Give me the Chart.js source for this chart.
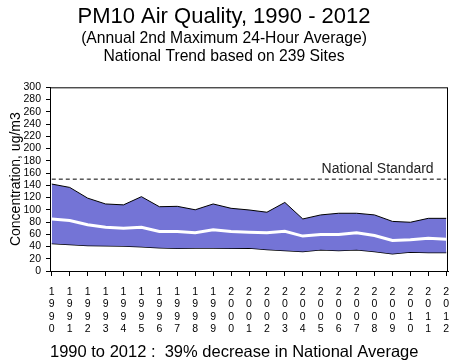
<!DOCTYPE html>
<html>
<head>
<meta charset="utf-8">
<script src="https://cdn.jsdelivr.net/npm/chart.js@4/dist/chart.umd.min.js"></script>
<style>
  body { margin: 0; background: #fff; }
  #wrap { width: 464px; height: 364px; }
</style>
</head>
<body>
<div id="wrap"><canvas id="pmChart" width="464" height="364"></canvas></div>
<script>
// PM10 national trend, 1990 - 2012
const YEARS = [1990, 1991, 1992, 1993, 1994, 1995, 1996, 1997, 1998, 1999, 2000, 2001,
  2002, 2003, 2004, 2005, 2006, 2007, 2008, 2009, 2010, 2011, 2012];
const HIGH_90 = [142, 136.5, 119, 109.5, 108, 121.4, 105, 105.6, 100, 109.5, 102.4, 99.7,
  96, 112, 85, 91.6, 94.3, 94.3, 91.6, 81, 79.6, 86, 86];
const NATIONAL_AVG = [85, 82.4, 75.4, 71.5, 70, 71.5, 64.5, 64.5, 62.4, 67.2, 64.5, 63.4,
  62.4, 65, 57, 59.6, 59.6, 62.4, 58, 50, 51, 53.6, 52];
const LOW_10 = [45, 43.4, 41.8, 41.4, 41, 39.6, 38, 37, 37.4, 37.4, 37, 37.4,
  35.3, 33.6, 32, 34.8, 33.6, 34.8, 32, 28.2, 31, 30.4, 30.4];
const STANDARD = 150;
const Y_TICKS = [0, 20, 40, 60, 80, 100, 120, 140, 160, 180, 200, 220, 240, 260, 280, 300];

const FONT = "'Liberation Sans', Arial, sans-serif";

// box round the plot area + the standard label
const framePlugin = {
  id: "frame",
  afterDraw(chart) {
    const { ctx, chartArea, scales } = chart;
    ctx.save();
    ctx.strokeStyle = "#000";
    ctx.lineWidth = 1;
    ctx.strokeRect(chartArea.left + 0.5, chartArea.top + 0.5,
      chartArea.right - chartArea.left - 1, chartArea.bottom - chartArea.top);
    ctx.fillStyle = "#222";
    ctx.font = "14px " + FONT;
    ctx.textAlign = "right";
    ctx.textBaseline = "bottom";
    ctx.fillText("National Standard", scales.x.getPixelForValue(2011.3), scales.y.getPixelForValue(STANDARD) - 3);
    ctx.restore();
  },
};

new Chart(document.getElementById("pmChart"), {
  type: "line",
  data: {
    labels: YEARS,
    datasets: [
      {
        label: "Average",
        data: NATIONAL_AVG,
        borderColor: "#fff",
        borderWidth: 3,
        pointRadius: 0,
        fill: false,
      },
      {
        label: "National Standard",
        data: YEARS.map(() => STANDARD),
        borderColor: "#000",
        borderWidth: 1,
        borderDash: [4, 3],
        pointRadius: 0,
        fill: false,
      },
      {
        label: "90%",
        data: HIGH_90,
        borderColor: "#000",
        borderWidth: 1,
        backgroundColor: "rgb(116,116,214)",
        pointRadius: 0,
        fill: "+1",
      },
      {
        label: "10%",
        data: LOW_10,
        borderColor: "#000",
        borderWidth: 1.5,
        pointRadius: 0,
        fill: false,
      },
    ],
  },
  options: {
    responsive: false,
    animation: false,
    layout: { padding: { right: 16, left: 0, top: 0, bottom: 0 } },
    plugins: {
      legend: { display: false },
      tooltip: { enabled: false },
      title: {
        display: true,
        text: "PM10 Air Quality, 1990 - 2012",
        color: "#000",
        font: { family: FONT, size: 22, weight: "normal", lineHeight: 1.1 },
        padding: { top: 5, bottom: 0 },
      },
      subtitle: {
        display: true,
        text: ["(Annual 2nd Maximum 24-Hour Average)", "National Trend based on 239 Sites"],
        color: "#000",
        font: { family: FONT, size: 15.7, lineHeight: 1.15 },
        padding: { top: 0, bottom: 22 },
      },
    },
    scales: {
      x: {
        type: "linear",
        min: 1989.9,
        max: 2012.1,
        afterBuildTicks: (scale) => { scale.ticks = YEARS.map((v) => ({ value: v })); },
        afterFit: (scale) => { scale.height = 93; },
        grid: { drawOnChartArea: false, drawTicks: true, tickLength: 5, color: "#000" },
        border: { display: true, color: "#000" },
        ticks: {
          autoSkip: false,
          maxRotation: 0,
          padding: 10,
          color: "#000",
          font: { family: FONT, size: 10.5, lineHeight: 1.18 },
          callback: (v) => String(v).split(""),
        },
        title: {
          display: true,
          text: "1990 to 2012 :  39% decrease in National Average",
          align: "start",
          color: "#000",
          font: { family: FONT, size: 16.5 },
          padding: { top: 4, bottom: 2 },
        },
      },
      y: {
        min: 0,
        max: 300,
        afterBuildTicks: (scale) => { scale.ticks = Y_TICKS.map((v) => ({ value: v })); },
        afterFit: (scale) => { scale.width = 50; },
        grid: { drawOnChartArea: false, drawTicks: true, tickLength: 4, color: "#000" },
        border: { display: true, color: "#000" },
        ticks: {
          autoSkip: false,
          padding: 5,
          color: "#000",
          font: { family: FONT, size: 10.5 },
        },
        title: {
          display: true,
          text: "Concentration, ug/m3",
          color: "#000",
          font: { family: FONT, size: 14 },
          padding: { top: 8, bottom: 0 },
        },
      },
    },
  },
  plugins: [framePlugin],
});
</script>
</body>
</html>
